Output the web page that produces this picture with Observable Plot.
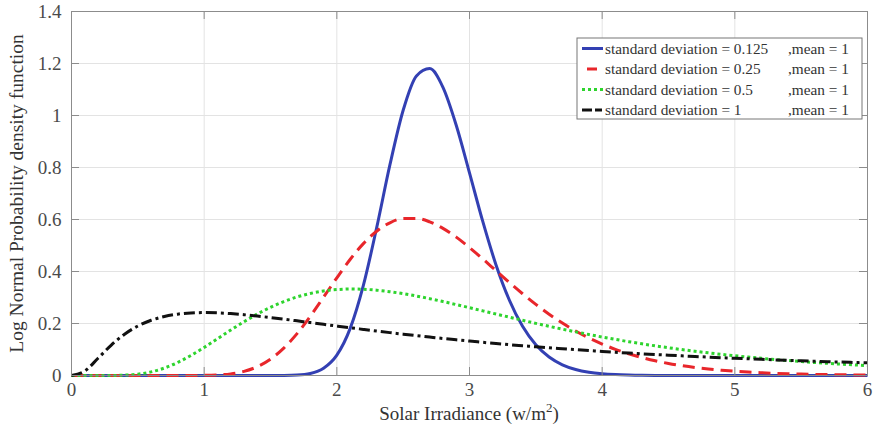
<!DOCTYPE html>
<html><head><meta charset="utf-8">
<script src="https://cdn.jsdelivr.net/npm/d3@7"></script>
<script src="https://cdn.jsdelivr.net/npm/@observablehq/plot@0.6"></script>
<style>body{margin:0;background:#fff}#chart{width:875px;height:437px}</style>
</head><body><div id="chart"></div>
<script>
const xs = [0,0.1,0.2,0.3,0.4,0.5,0.6,0.7,0.8,0.9,1.0,1.1,1.2,1.3,1.4,1.5,1.6,1.7,1.8,1.9,2.0,2.1,2.2,2.3,2.4,2.5,2.6,2.7,2.8,2.9,3.0,3.1,3.2,3.3,3.4,3.5,3.6,3.7,3.8,3.9,4.0,4.1,4.2,4.3,4.4,4.5,4.6,4.7,4.8,4.9,5.0,5.1,5.2,5.3,5.4,5.5,5.6,5.7,5.8,5.9,6.0];
const sd0125 = [0,0,0,0,0,0,0,0,0,0,0,0,0,0,0,0.0000,0.0003,0.0016,0.0077,0.0278,0.0783,0.1804,0.3467,0.5679,0.8098,1.0201,1.1521,1.1804,1.1083,0.9626,0.7794,0.5925,0.4253,0.2904,0.1890,0.1180,0.0710,0.0412,0.0232,0.0126,0.0067,0.0035,0.0018,0.0009,0.0004,0.0002,0,0,0,0,0,0,0,0,0,0,0,0,0,0,0];
const sd025 = [0,0,0,0,0,0,0,0,0,0.0001,0.0005,0.0021,0.0063,0.0158,0.0337,0.0630,0.1054,0.1611,0.2277,0.3012,0.3756,0.4461,0.5072,0.5549,0.5874,0.6035,0.6041,0.5908,0.5659,0.5321,0.4921,0.4484,0.4030,0.3580,0.3144,0.2734,0.2358,0.2016,0.1711,0.1443,0.1209,0.1008,0.0836,0.0690,0.0567,0.0464,0.0379,0.0308,0.0250,0.0203,0.0164,0.0132,0.0106,0.0085,0.0068,0.0055,0.0044,0.0035,0.0028,0.0022,0.0018];
const sd05 = [0,0,0,0.0002,0.0013,0.0052,0.0138,0.0287,0.0501,0.0770,0.1080,0.1412,0.1746,0.2067,0.2363,0.2623,0.2843,0.3021,0.3156,0.3250,0.3304,0.3326,0.3316,0.3281,0.3223,0.3147,0.3057,0.2955,0.2845,0.2728,0.2608,0.2486,0.2364,0.2243,0.2123,0.2006,0.1893,0.1783,0.1678,0.1576,0.1480,0.1388,0.1301,0.1218,0.1140,0.1067,0.0997,0.0932,0.0871,0.0813,0.0759,0.0709,0.0661,0.0617,0.0576,0.0537,0.0501,0.0468,0.0436,0.0407,0.0380];
const sd1 = [0,0.0171,0.0663,0.1172,0.1590,0.1903,0.2124,0.2271,0.2360,0.2406,0.2420,0.2409,0.2380,0.2338,0.2287,0.2229,0.2167,0.2102,0.2036,0.1969,0.1903,0.1837,0.1773,0.1710,0.1649,0.1590,0.1533,0.1478,0.1424,0.1373,0.1323,0.1276,0.1230,0.1186,0.1144,0.1104,0.1065,0.1028,0.0993,0.0958,0.0926,0.0894,0.0864,0.0835,0.0807,0.0781,0.0755,0.0731,0.0707,0.0684,0.0663,0.0642,0.0622,0.0602,0.0584,0.0566,0.0549,0.0532,0.0516,0.0501,0.0486];
const seriesNames = ["standard deviation = 0.125","standard deviation = 0.25","standard deviation = 0.5","standard deviation = 1"];
const meanLabel = ",mean = 1";
const xTicks = [0,1,2,3,4,5,6];
const yTicks = [0,0.2,0.4,0.6,0.8,1,1.2,1.4];
const xLabel = "Solar Irradiance (w/m";
const yLabel = "Log Normal Probability density function";

const seriesValues = [sd0125, sd025, sd05, sd1];
const colors = ["#3340b3","#e8262b","#2ed42e","#111111"];
const dashes = [null,"12,7","3,3","11,4,3,4"];
const widths = [3,3,3,3];

const W = 875, H = 437, mL = 71, mR = 8, mT = 11, mB = 62;
const innerW = W - mL - mR, innerH = H - mT - mB;
const serif = "'Liberation Serif','Times New Roman',serif";

const lineMarks = seriesValues.map((vals, i) => Plot.line(
  xs.map((x, j) => ({x, y: vals[j]})),
  {x: "x", y: "y", stroke: colors[i], strokeWidth: widths[i], strokeDasharray: dashes[i], curve: "monotone-x", strokeLinecap: "butt"}
));

const svg = Plot.plot({
  width: W, height: H,
  marginLeft: mL, marginRight: mR, marginTop: mT, marginBottom: mB,
  style: {fontFamily: serif, fontSize: "19px", background: "#fff"},
  x: {domain: [0, 6]},
  y: {domain: [0, 1.4]},
  marks: [
    Plot.gridX(xTicks, {stroke: "#e3e3e3", strokeOpacity: 1}),
    Plot.gridY(yTicks, {stroke: "#e3e3e3", strokeOpacity: 1}),
    ...lineMarks,
    Plot.frame({stroke: "#8c8c8c"}),
    Plot.tickX(xTicks, {x: d => d, insetTop: innerH - 8, stroke: "#8c8c8c"}),
    Plot.tickX(xTicks, {x: d => d, insetBottom: innerH - 8, stroke: "#8c8c8c"}),
    Plot.tickY(yTicks, {y: d => d, insetRight: innerW - 8, stroke: "#8c8c8c"}),
    Plot.tickY(yTicks, {y: d => d, insetLeft: innerW - 8, stroke: "#8c8c8c"}),
    Plot.axisX(xTicks, {tickSize: 0, tickPadding: 7, label: null, fill: "#4a4a4a", fontSize: 19, tickFormat: d => String(d)}),
    Plot.axisY(yTicks, {tickSize: 0, tickPadding: 10, label: null, fill: "#4a4a4a", fontSize: 19, tickFormat: d => String(d)}),
    Plot.text([yLabel], {text: d => d, frameAnchor: "left", textAnchor: "middle", rotate: -90, dx: -55, dy: 0, fill: "#333", fontSize: 19.5})
  ]
});
document.getElementById("chart").appendChild(svg);

const s = d3.select(svg);
// x axis label with superscript
const xl = s.append("text")
  .attr("x", mL + innerW / 2).attr("y", H - 17)
  .attr("text-anchor", "middle").attr("fill", "#333")
  .style("font-family", serif).style("font-size", "19px");
xl.append("tspan").text(xLabel);
xl.append("tspan").attr("dy", -8).style("font-size", "13px").text("2");
xl.append("tspan").attr("dy", 8).text(")");

// legend
const lg = s.append("g").style("font-family", serif).style("font-size", "15.3px").attr("text-anchor", "start");
const bx = 577, by = 38, bw = 285, bh = 81;
lg.append("rect").attr("x", bx).attr("y", by).attr("width", bw).attr("height", bh)
  .attr("fill", "#fff").attr("stroke", "#777").attr("stroke-width", 1);
const rowY = [48.5, 69, 89.5, 110];
seriesNames.forEach((name, i) => {
  lg.append("line").attr("x1", 582).attr("x2", 603).attr("y1", rowY[i]).attr("y2", rowY[i])
    .attr("stroke", colors[i]).attr("stroke-width", 3)
    .attr("stroke-dasharray", i === 1 ? "0,5,10,6" : i === 3 ? "10,3,7,3" : dashes[i]);
  lg.append("text").attr("x", 605).attr("y", rowY[i]).attr("dy", "0.35em").attr("text-anchor", "start").attr("fill", "#333").text(name);
  lg.append("text").attr("x", 788).attr("y", rowY[i]).attr("dy", "0.35em").attr("text-anchor", "start").attr("fill", "#333").text(meanLabel);
});
</script>
</body></html>
